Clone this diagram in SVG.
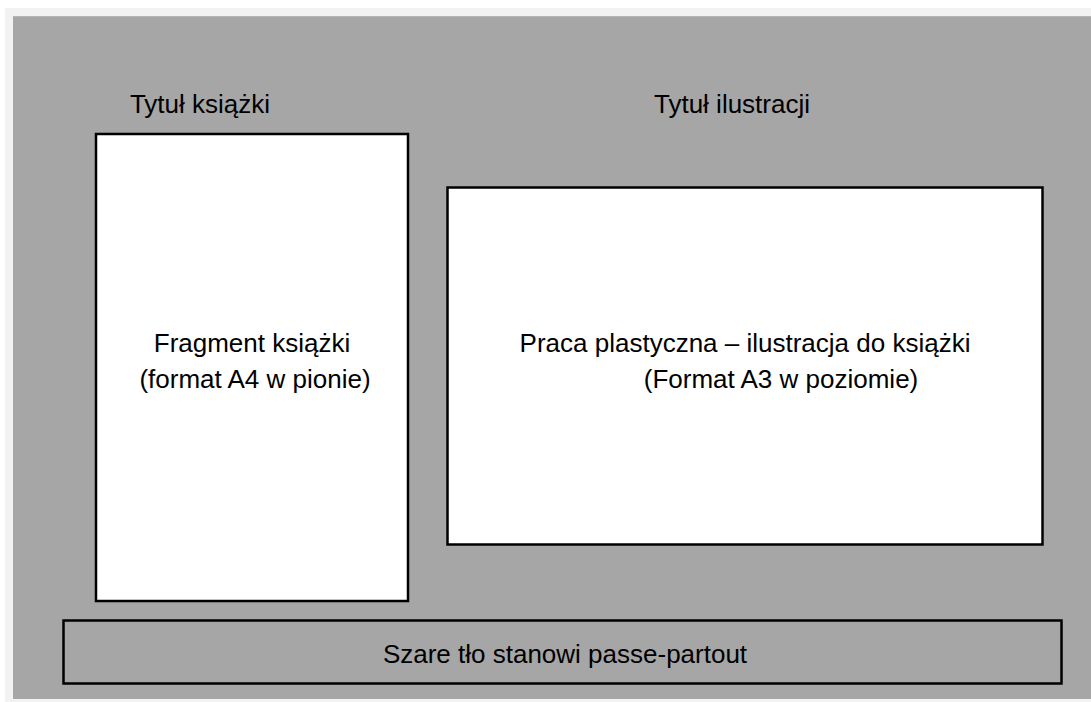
<svg xmlns="http://www.w3.org/2000/svg" width="1091" height="702" viewBox="0 0 1091 702">
<style>
.box{stroke:#000;stroke-width:2.5}
.t{font-family:"Liberation Sans",Arial,sans-serif;font-size:26px;fill:#000;text-anchor:middle}
</style>
<rect x="0" y="0" width="1091" height="702" fill="#ffffff"/>
<rect x="5" y="8" width="1086" height="694" fill="#f2f2f2"/>
<rect x="13" y="16" width="1078" height="683" fill="#a6a6a6"/>
<line x1="13" y1="16.5" x2="1091" y2="16.5" stroke="#b4b4b4" stroke-width="1"/>
<g id="title-book"><text class="t" x="200" y="113">Tytuł książki</text></g>
<g id="title-illustration"><text class="t" x="732" y="113">Tytuł ilustracji</text></g>
<g id="book-fragment">
<rect class="box" x="96" y="134" width="312" height="467" fill="#fff"/>
<text class="t" x="252" y="352">Fragment książki</text>
<text class="t" x="255" y="388">(format A4 w pionie)</text>
</g>
<g id="illustration">
<rect class="box" x="447.5" y="187.5" width="595" height="357" fill="#fff"/>
<text class="t" x="745" y="352">Praca plastyczna – ilustracja do książki</text>
<text class="t" x="781" y="388">(Format A3 w poziomie)</text>
</g>
<g id="passe-partout">
<rect class="box" x="63.5" y="620.5" width="998" height="63" fill="none"/>
<text class="t" x="565" y="663">Szare tło stanowi passe-partout</text>
</g>
<g id="connectors"></g>
</svg>
